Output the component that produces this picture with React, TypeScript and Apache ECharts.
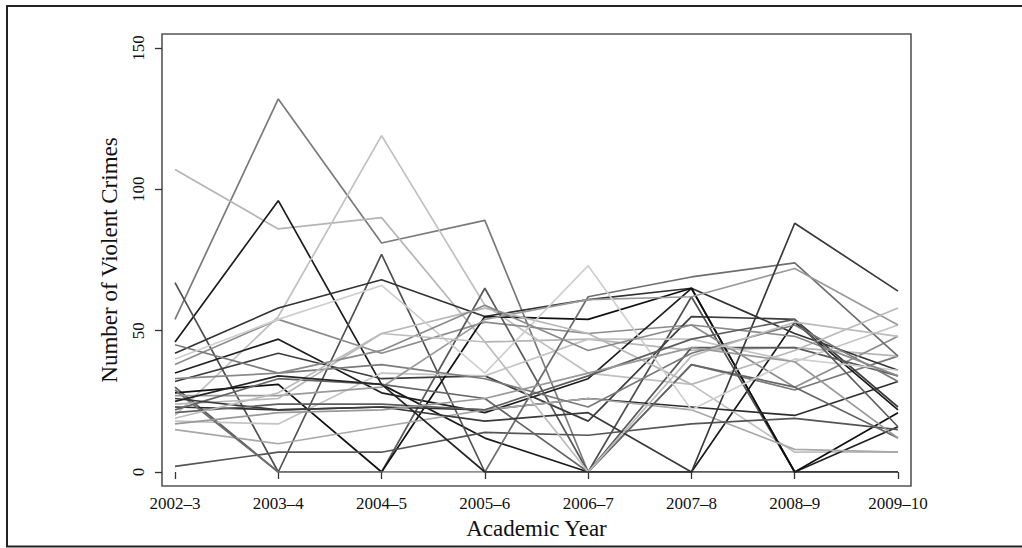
import React, { useEffect, useRef } from "react";
import * as echarts from "echarts";

const years = ["2002–3", "2003–4", "2004–5", "2005–6", "2006–7", "2007–8", "2008–9", "2009–10"];
const yTicks = [0, 50, 100, 150];

const s01 = [54, 132, 81, 89, 0, 38, 29, 41];
const s02 = [107, 86, 90, 46, 47, 43, 44, 41];
const s03 = [46, 96, 31, 12, 0, 0, 53, 22];
const s04 = [20, 55, 119, 59, 35, 31, 7, 7];
const s05 = [67, 0, 77, 0, 0, 62, 0, 0];
const s06 = [42, 58, 68, 55, 61, 65, 49, 36];
const s07 = [38, 54, 42, 53, 49, 52, 30, 48];
const s08 = [35, 47, 28, 21, 33, 65, 0, 16];
const s09 = [32, 42, 33, 34, 18, 55, 54, 23];
const s10 = [30, 0, 0, 65, 0, 44, 44, 34];
const s11 = [28, 31, 0, 55, 54, 65, 0, 21];
const s12 = [23, 22, 23, 22, 26, 23, 20, 32];
const s13 = [18, 17, 35, 34, 47, 47, 39, 52];
const s14 = [15, 10, 16, 22, 26, 22, 8, 7];
const s15 = [2, 7, 7, 14, 13, 17, 19, 15];
const s16 = [45, 35, 38, 33, 23, 42, 52, 32];
const s17 = [29, 0, 0, 0, 62, 69, 74, 41];
const s18 = [27, 27, 30, 54, 61, 62, 72, 52];
const s19 = [24, 26, 49, 58, 49, 31, 43, 58];
const s20 = [22, 33, 31, 26, 0, 38, 30, 12];
const s21 = [26, 22, 23, 18, 21, 0, 88, 64];
const s22 = [40, 54, 66, 35, 73, 22, 40, 36];
const s23 = [33, 35, 43, 59, 43, 52, 48, 34];
const s24 = [21, 24, 24, 22, 34, 47, 54, 16];
const s25 = [19, 28, 49, 46, 0, 41, 53, 48];
const s26 = [25, 34, 31, 0, 0, 0, 0, 0];
const s27 = [17, 21, 22, 26, 35, 44, 39, 12];

const seriesData = [s01, s02, s03, s04, s05, s06, s07, s08, s09, s10, s11, s12, s13, s14, s15, s16, s17, s18, s19, s20, s21, s22, s23, s24, s25, s26, s27];
const seriesColors = [
  "#7a7a7a", "#b5b5b5", "#1c1c1c", "#c0c0c0", "#505050", "#333333", "#8c8c8c", "#1f1f1f", "#3d3d3d",
  "#5a5a5a", "#111111", "#2e2e2e", "#c4c4c4", "#a8a8a8", "#555555", "#7a7a7a", "#6e6e6e", "#9a9a9a",
  "#b8b8b8", "#666666", "#3a3a3a", "#cfcfcf", "#8a8a8a", "#5e5e5e", "#bcbcbc", "#262626", "#999999",
];

const FONT = "'Liberation Serif', 'DejaVu Serif', serif";

export default function App() {
  const ref = useRef<HTMLDivElement>(null);
  useEffect(() => {
    if (!ref.current) return;
    const chart = echarts.init(ref.current, null, { renderer: "svg" });
    chart.setOption({
      animation: false,
      backgroundColor: "#ffffff",
      grid: { left: 175, right: 124, top: 48, bottom: 76, containLabel: false, outerBoundsMode: "none" },
      xAxis: {
        type: "category",
        data: years,
        boundaryGap: false,
        offset: 14,
        axisLine: { show: false },
        axisTick: { show: true, length: 7, alignWithLabel: true, lineStyle: { color: "#333", width: 1.3 } },
        axisLabel: { color: "#111", fontFamily: FONT, fontSize: 17, margin: 9, interval: 0 },
        splitLine: { show: false },
        name: "Academic Year",
        nameLocation: "middle",
        nameGap: 31,
        nameTextStyle: { color: "#111", fontFamily: FONT, fontSize: 23 },
      },
      yAxis: {
        type: "value",
        min: yTicks[0],
        max: yTicks[yTicks.length - 1],
        interval: 50,
        offset: 13,
        axisLine: { show: false },
        axisTick: { show: true, length: 7, lineStyle: { color: "#333", width: 1.3 } },
        axisLabel: { color: "#111", fontFamily: FONT, fontSize: 17, rotate: 90, margin: 15 },
        splitLine: { show: false },
        name: "Number of Violent Crimes",
        nameLocation: "middle",
        nameRotate: 90,
        nameGap: 41,
        nameTextStyle: { color: "#111", fontFamily: FONT, fontSize: 23 },
      },
      graphic: [
        {
          type: "rect",
          shape: { x: 162, y: 34, width: 749, height: 452 },
          style: { fill: "none", stroke: "#555", lineWidth: 1.6 },
          silent: true,
        },
        {
          type: "rect",
          shape: { x: 7, y: 6, width: 1030, height: 540.5 },
          style: { fill: "none", stroke: "#222", lineWidth: 2 },
          silent: true,
        },
      ],
      series: seriesData.map((d, i) => ({
        type: "line",
        name: "S" + (i + 1),
        data: d,
        symbol: "none",
        lineStyle: { color: seriesColors[i], width: 1.7 },
        itemStyle: { color: seriesColors[i] },
        emphasis: { disabled: true },
      })),
    });
    return () => chart.dispose();
  }, []);
  return <div ref={ref} style={{ position: "fixed", left: 0, top: 0, width: 1022, height: 548 }} />;
}
